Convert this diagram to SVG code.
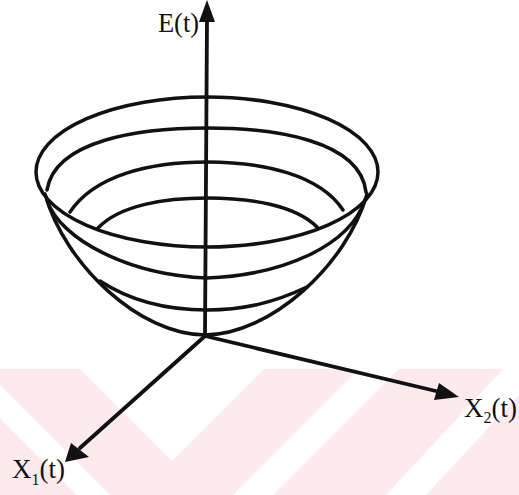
<svg xmlns="http://www.w3.org/2000/svg" width="519" height="495" viewBox="0 0 519 495">
<defs>
<style>
.bg{fill:#ffffff}
.wm{fill:#fdeaee}
.wmw{fill:#ffffff}
.curve{fill:none;stroke:#111;stroke-width:3.5;stroke-linecap:round;stroke-linejoin:round}
.axis{fill:none;stroke:#111;stroke-width:3.8;stroke-linecap:round}
.head{fill:#111}
.lbl{font-family:"Liberation Serif","Times New Roman",serif;fill:#111}
</style>
</defs>
<rect class="bg" x="0" y="0" width="519" height="495"/>
<g id="watermark">
<rect class="wm" x="0" y="369" width="519" height="126"/>
<polygon class="wmw" points="80,369 264,369 172,461"/>
<polygon class="wmw" points="0,385 110,495 77,495 0,418"/>
<polygon class="wmw" points="359,369 399,369 273,495 233,495"/>
<polygon class="wmw" points="503,369 519,369 519,395 426,495 386,495"/>
</g>
<g id="bowl">
<ellipse id="rim" class="curve" cx="207" cy="172" rx="171" ry="75"/>
<path id="level2" class="curve" d="M47,190 C55,140 140,128 207,128 C274,128 360,140 366,192"/>
<path id="level3" class="curve" d="M70,212 C95,175 150,162 207,162 C264,162 320,175 343,210"/>
<path id="level4" class="curve" d="M98,228 C120,205 165,198 207,198 C250,198 295,205 317,227"/>
<path id="front2" class="curve" d="M47,200 C60,240 130,275 207,278 C285,275 350,245 365,200"/>
<path id="front3" class="curve" d="M100,281 C135,304 175,310 207,310 C245,310 275,302 307,287"/>
<path id="silhouette" class="curve" d="M45,194 C65,265 140,335 205,335 C270,335 347,265 367,194"/>
</g>
<g id="connectors">
<line id="axis-E" class="axis" x1="205" y1="335" x2="207" y2="18"/>
<polygon class="head" points="207,0 215,22 199,22"/>
<line id="axis-X1" class="axis" x1="205" y1="336" x2="80" y2="448"/>
<polygon class="head" points="65,462 71,443 89,457"/>
<line id="axis-X2" class="axis" x1="205" y1="336" x2="440" y2="392"/>
<polygon class="head" points="459,397 439,383 434,400"/>
</g>
<g id="label-E">
<text class="lbl" x="158" y="32" font-size="28" textLength="41" lengthAdjust="spacingAndGlyphs">E(t)</text>
</g>
<g id="label-X1">
<text class="lbl" font-size="27"><tspan x="12" y="478">X</tspan><tspan x="31.5" y="485" font-size="16">1</tspan><tspan x="39.5" y="478">(t)</tspan></text>
</g>
<g id="label-X2">
<text class="lbl" font-size="27"><tspan x="464" y="417">X</tspan><tspan x="483.5" y="423" font-size="16">2</tspan><tspan x="491.5" y="417">(t)</tspan></text>
</g>
</svg>
